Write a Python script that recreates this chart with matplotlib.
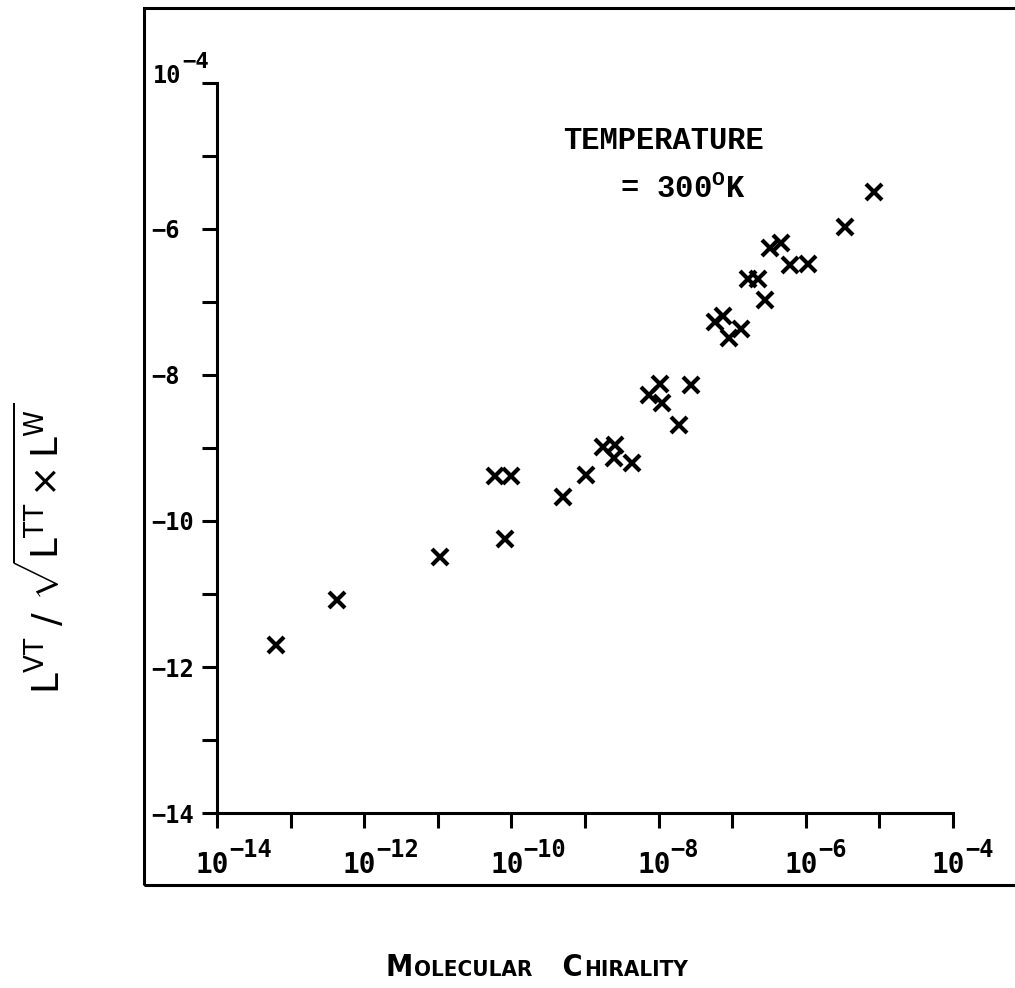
import numpy as np
import matplotlib
matplotlib.use('Agg')
import matplotlib.pyplot as plt
from matplotlib.patches import Rectangle
from matplotlib.offsetbox import TextArea, HPacker, AnchoredOffsetbox

# log10 of molecular chirality and of L^VT / sqrt(L^TT x L^W)
log_chirality = [-13.20, -12.37, -10.97, -10.09, -10.22, -10.00, -9.30, -8.99,
                 -8.75, -8.59, -8.61, -8.36, -8.13, -7.98, -7.96, -7.72, -7.56,
                 -7.23, -7.12, -7.05, -6.88, -6.78, -6.65, -6.55, -6.49, -6.34,
                 -6.22, -5.97, -5.47, -5.08]
log_ratio = [-11.70, -11.08, -10.50, -10.25, -9.38, -9.38, -9.67, -9.37,
             -8.98, -8.96, -9.14, -9.21, -8.27, -8.12, -8.39, -8.69, -8.14,
             -7.27, -7.19, -7.50, -7.37, -6.68, -6.68, -6.97, -6.26, -6.19,
             -6.49, -6.48, -5.97, -5.50]

decades = list(range(-14, -3))
x_label_decades = [-14, -12, -10, -8, -6, -4]
y_ticklabels = ['\u2212%d' % -d if d % 2 == 0 else '' for d in decades]
y_ticklabels[-1] = ''   # the 10^-4 at the top is written by hand below

W, H = 1015, 988
PT = 0.72  # points per pixel at dpi 100
fig = plt.figure(figsize=(W / 100, H / 100), dpi=100)
ax = fig.add_axes([217 / W, 1 - 813 / H, (953 - 217) / W, (813 - 83) / H])

x = 10.0 ** np.array(log_chirality)
y = 10.0 ** np.array(log_ratio)
ax.plot(x, y, linestyle='none', marker='x', color='black', markersize=11.5,
        markeredgewidth=3.0)

ax.set_xscale('log')
ax.set_yscale('log')
ax.set_xlim(1e-14, 1e-4)
ax.set_ylim(1e-14, 1e-4)
ax.set_xticks([10.0 ** d for d in decades])
ax.set_yticks([10.0 ** d for d in decades])
ax.minorticks_off()
ax.set_xticklabels([''] * len(decades))
ax.set_yticklabels(y_ticklabels)

for side in ['top', 'right']:
    ax.spines[side].set_visible(False)
for side in ['left', 'bottom']:
    ax.spines[side].set_linewidth(2.2)

ax.tick_params(axis='both', direction='out', length=10.8, width=2.2)
ax.tick_params(axis='y', pad=36.5)
for lab in ax.get_yticklabels():
    lab.set_fontfamily('DejaVu Sans Mono')
    lab.set_fontweight('bold')
    lab.set_fontsize(17)
    lab.set_horizontalalignment('left')

mono = dict(family='DejaVu Sans Mono', fontweight='bold')

# x tick labels: 10 with a large typed exponent
xtrans = ax.get_xaxis_transform()
for d in x_label_decades:
    ax.annotate('10', (10.0 ** d, 0), xycoords=xtrans,
                xytext=(-4.5 * PT, -60 * PT), textcoords='offset points',
                ha='center', va='baseline', fontsize=20, **mono)
    ax.annotate('\u2212%d' % -d, (10.0 ** d, 0), xycoords=xtrans,
                xytext=(12 * PT, -44 * PT), textcoords='offset points',
                ha='left', va='baseline', fontsize=17, **mono)

# top y label 10^-4
ytrans = ax.get_yaxis_transform()
ax.annotate('10', (0, 1e-4), xycoords=ytrans, xytext=(-64 * PT, 0),
            textcoords='offset points', ha='left', va='baseline',
            fontsize=17, **mono)
ax.annotate('\u22124', (0, 1e-4), xycoords=ytrans, xytext=(-35 * PT, 15 * PT),
            textcoords='offset points', ha='left', va='baseline',
            fontsize=16, **mono)

# outer frame, right edge runs off the page
frame = Rectangle((144 / W, 1 - 885 / H), (1040 - 144) / W, (885 - 8) / H,
                  transform=fig.transFigure, fill=False, linewidth=2.2,
                  edgecolor='black', clip_on=False)
fig.add_artist(frame)

fig.text(563 / W, 1 - 141 / H, 'TEMPERATURE', fontsize=22, fontweight='bold',
         family='Liberation Mono', va='center', ha='left')
fig.text(620 / W, 1 - 190 / H, '= 300$^{\\mathdefault{O}}$K', fontsize=22,
         fontweight='bold', family='Liberation Mono', va='center', ha='left')

# y label
plt.rcParams['mathtext.fontset'] = 'custom'
plt.rcParams['mathtext.sf'] = 'DejaVu Sans'
fig.text(40 / W, 1 - 548 / H,
         r'$\mathsf{L^{VT}\ /\ \sqrt{L^{TT}\times L^{W}}}$',
         rotation=90, fontsize=27, va='center', ha='center')

# x label in small caps
parts = [('M', 22), ('OLECULAR', 16), ('   C', 22), ('HIRALITY', 16)]
boxes = [TextArea(t, textprops=dict(fontsize=s, fontweight='bold',
                                    family='DejaVu Sans', fontstretch='condensed'))
         for t, s in parts]
pack = HPacker(children=boxes, align='baseline', pad=0, sep=1)
anch = AnchoredOffsetbox(loc='center', child=pack, frameon=False,
                         bbox_to_anchor=(537 / W, 1 - 967 / H),
                         bbox_transform=fig.transFigure, borderpad=0)
fig.add_artist(anch)

fig.savefig('out.png', dpi=100)
